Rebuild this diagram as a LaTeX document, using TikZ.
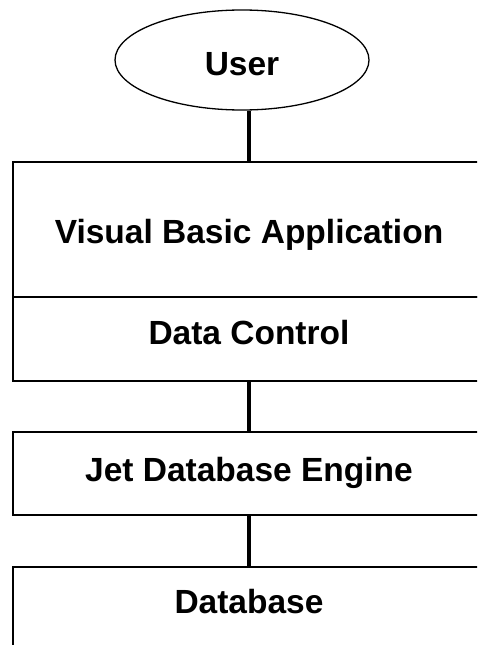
\documentclass[tikz,border=0pt]{standalone}
\usepackage{fontspec}
\setmainfont{Liberation Sans}
\usetikzlibrary{shapes.geometric}
\tikzset{
  box/.style={draw=black, line width=1.5pt, rectangle, minimum width=472pt, inner sep=0pt,
    font=\fontsize{33.5}{38}\selectfont\bfseries, text=black},
  usershape/.style={draw=black, line width=1.3pt, ellipse, minimum width=254pt, minimum height=100pt,
    inner sep=0pt, font=\fontsize{33.5}{38}\selectfont\bfseries},
  conn/.style={line width=4pt, black}
}
\begin{document}
\begin{tikzpicture}[x=1pt,y=-1pt]
\useasboundingbox (0,0) rectangle (477,645);
\clip (0,0) rectangle (477,645);
\node[usershape, text height=31pt, text depth=0pt] (user) at (242,60) {User};
\node[box, minimum height=135pt, text height=28pt, text depth=0pt] (vba) at (249,229.5) {Visual Basic Application};
\node[box, minimum height=84pt, text height=23pt, text depth=12pt] (dc) at (249,339) {Data Control};
\node[box, minimum height=83pt, text height=23pt, text depth=7pt] (jet) at (249,473.5) {Jet Database Engine};
\node[box, minimum height=93pt, text height=23pt, text depth=23pt] (db) at (249,613.5) {Database};
\draw[conn] (vba.north) -- (vba.north |- user.south);
\draw[conn] (dc.south) -- (jet.north);
\draw[conn] (jet.south) -- (db.north);
\end{tikzpicture}
\end{document}
